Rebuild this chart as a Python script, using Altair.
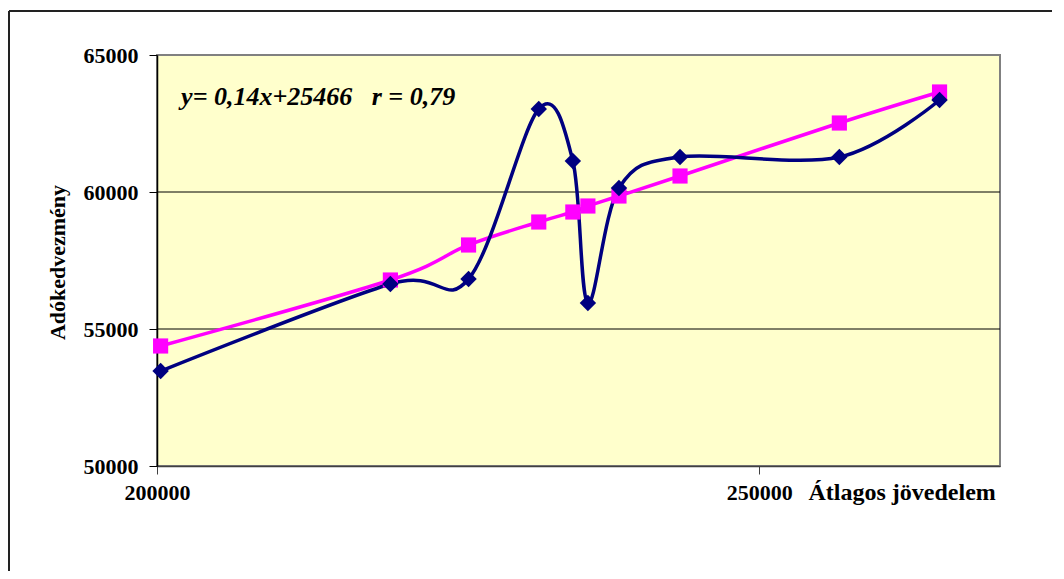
import altair as alt
import pandas as pd

# Data
income = [200300, 219380, 225870, 231700, 234530, 235780, 238360, 243430, 256660, 264980]
actual = [53467, 56642, 56825, 63029, 61131, 55949, 60146, 61277, 61277, 63358]
fitted = [54380, 56788, 58066, 58905, 59270, 59489, 59854, 60584, 62518, 63650]
y_ticks = [50000, 55000, 60000, 65000]
x_ticks = [200000, 250000]
grid_values = [55000, 60000]
annotation = "y= 0,14x+25466\u00a0\u00a0\u00a0r = 0,79"

FONT = "Liberation Serif"
W, H = 843, 411

df = pd.DataFrame({"x": income, "actual": actual, "fitted": fitted})
grid_df = pd.DataFrame({"g": grid_values})
ann_df = pd.DataFrame({"x": [202000], "y": [63470], "t": [annotation]})

xscale = alt.Scale(domain=[200000, 270000], nice=False, zero=False)
yscale = alt.Scale(domain=[50000, 65000], nice=False, zero=False)

xax = alt.Axis(
    values=x_ticks, format="d", grid=False, domainColor="#404040", domainWidth=1.5,
    tickColor="#404040", tickSize=8, labelFont=FONT, labelFontWeight="bold",
    labelFontSize=22, labelColor="black", labelPadding=8, labelBaseline="top",
    labelFlush=False,
    title="Átlagos jövedelem", titleFont=FONT, titleFontWeight="bold", titleFontSize=24,
    titleColor="black", titleAlign="left", titleBaseline="top", titleX=651, titleY=14,
)
yax = alt.Axis(
    values=y_ticks, format="d", grid=False, domainColor="black", domainWidth=1.5,
    tickColor="black", tickSize=8, labelFont=FONT, labelFontWeight="bold",
    labelFontSize=22, labelColor="black", labelPadding=11,
    title="Adókedvezmény", titleFont=FONT, titleFontWeight="bold", titleFontSize=22,
    titleColor="black", titleX=-100, titleY=207, titleAngle=-90, titleAlign="center",
    titleBaseline="middle",
)

X = lambda f: alt.X(f, scale=xscale, axis=xax)
Y = lambda f: alt.Y(f, scale=yscale, axis=yax)

grid = alt.Chart(grid_df).mark_rule(color="black", strokeWidth=1).encode(y=Y("g:Q"))

base = alt.Chart(df)
blue_line = base.mark_line(color="#000080", strokeWidth=3.5, interpolate="cardinal").encode(
    x=X("x:Q"), y=Y("actual:Q")
)
blue_pts = base.mark_point(shape="diamond", filled=True, color="#000080", size=270, opacity=1).encode(
    x=X("x:Q"), y=Y("actual:Q")
)
pink_line = base.mark_line(color="#FF00FF", strokeWidth=3.5, interpolate="cardinal").encode(
    x=X("x:Q"), y=Y("fitted:Q")
)
pink_pts = base.mark_point(shape="square", filled=True, color="#FF00FF", size=230, opacity=1).encode(
    x=X("x:Q"), y=Y("fitted:Q")
)

ann = alt.Chart(ann_df).mark_text(
    font=FONT, fontWeight="bold", fontStyle="italic", fontSize=26, align="left",
    baseline="middle", color="black"
).encode(x=X("x:Q"), y=Y("y:Q"), text="t:N")

frame_top = alt.Chart(grid_df).mark_rule(color="#222222", strokeWidth=2).encode(
    x=alt.value(-148), x2=alt.value(920), y=alt.value(-44)
)
frame_left = alt.Chart(grid_df).mark_rule(color="#222222", strokeWidth=2).encode(
    x=alt.value(-148), y=alt.value(-44), y2=alt.value(560)
)

chart = alt.layer(
    grid, pink_line, blue_line, pink_pts, blue_pts, ann, frame_top, frame_left
).properties(
    width=W, height=H,
    autosize=alt.AutoSizeParams(type="none"),
    padding={"left": 149, "top": 47, "right": 52, "bottom": 105},
).configure_view(
    fill="#FFFFCC", stroke="#808080", strokeWidth=2
)

chart.save("out.html", embed_options={"renderer": "svg", "actions": False})
